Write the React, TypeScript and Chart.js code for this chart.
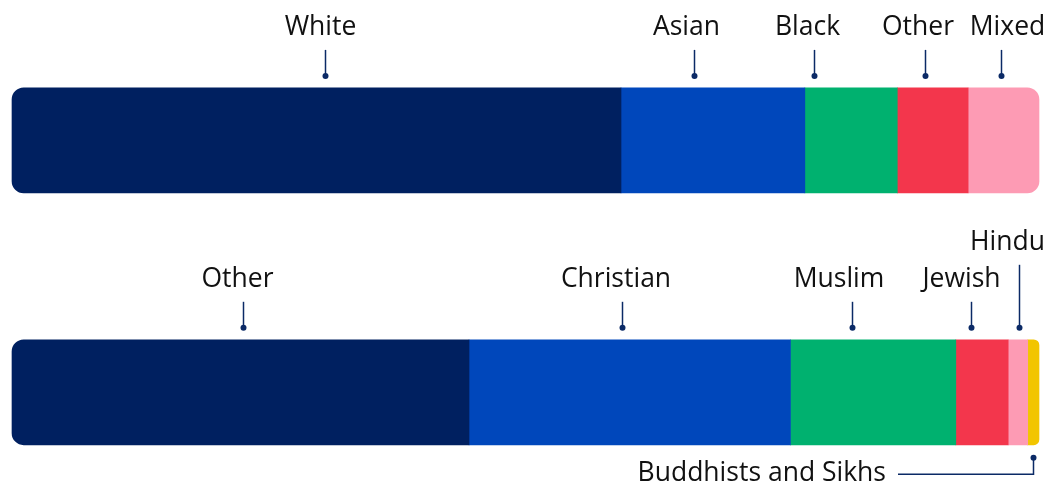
import React, { useEffect, useRef } from 'react';
import { Chart, registerables } from 'chart.js';

Chart.register(...registerables);

// ---- data ----
const rowNames = ['Ethnicity', 'Religion'];
const ethnicityLabels = ['White', 'Asian', 'Black', 'Other', 'Mixed'];
const ethnicityValues = [59.3, 17.9, 9.0, 6.9, 6.9];
const religionLabels = ['Other', 'Christian', 'Muslim', 'Jewish', 'Hindu', 'Buddhists and Sikhs'];
const religionValues = [44.5, 31.3, 16.1, 5.1, 1.9, 1.1];

// ---- styles ----
const segmentColors = ['#002060', '#0047BB', '#00B16F', '#F3364C', '#FD9BB4', '#F2C500'];
const textColor = '#111111';
const leaderColor = '#0B2A66';
const cornerRadius = 12;
const labelFont = '26.5px "Open Sans"';

// label layout in pixels: leader shift from segment centre, text shift from leader, lift, placement
type Lay = { lineDx: number; textDx: number; lift?: number; below?: boolean };
const ethnicityLayout: Lay[] = [
  { lineDx: 8.5, textDx: -5 },
  { lineDx: -19, textDx: -8 },
  { lineDx: -37, textDx: -7 },
  { lineDx: -7.7, textDx: -7.5 },
  { lineDx: -2.6, textDx: 6 },
];
const religionLayout: Lay[] = [
  { lineDx: 2.5, textDx: -6 },
  { lineDx: -7.7, textDx: -6.5 },
  { lineDx: -21.2, textDx: -13.5 },
  { lineDx: -11, textDx: -10 },
  { lineDx: 1, textDx: -12, lift: 37 },
  { lineDx: 0, textDx: 0, below: true },
];

const rowsLabels = [ethnicityLabels, religionLabels];
const rowsValues = [ethnicityValues, religionValues];
const rowsLayout = [ethnicityLayout, religionLayout];

function spans(values: number[]): [number, number][] {
  const out: [number, number][] = [];
  let acc = 0;
  values.forEach((v) => {
    out.push([acc, acc + v]);
    acc += v;
  });
  return out;
}

const labelPlugin = {
  id: 'segmentLabels',
  afterDatasetsDraw(chart: any) {
    const ctx = chart.ctx as CanvasRenderingContext2D;
    ctx.save();
    ctx.font = labelFont;
    rowsLabels.forEach((labels, r) => {
      labels.forEach((label, i) => {
        const meta = chart.getDatasetMeta(i);
        const el = meta.data[r];
        if (!el) return;
        const p = el.getProps(['x', 'base', 'y', 'height'], true);
        const left = Math.min(p.x, p.base);
        const right = Math.max(p.x, p.base);
        const cx = (left + right) / 2;
        const top = p.y - p.height / 2;
        const bottom = p.y + p.height / 2;
        const lay = rowsLayout[r][i];
        const lx = Math.round(cx + lay.lineDx) + 0.5;
        ctx.strokeStyle = leaderColor;
        ctx.fillStyle = leaderColor;
        ctx.lineWidth = 1.5;
        if (lay.below) {
          const dotY = bottom + 13;
          const cornerY = bottom + 29.5;
          ctx.font = labelFont;
          const tw = ctx.measureText(label).width;
          const textRight = 886;
          const lineStart = textRight + 12;
          ctx.beginPath();
          ctx.moveTo(lx, dotY);
          ctx.lineTo(lx, cornerY);
          ctx.lineTo(lineStart, cornerY);
          ctx.stroke();
          ctx.beginPath();
          ctx.arc(lx, dotY, 3, 0, Math.PI * 2);
          ctx.fill();
          ctx.fillStyle = textColor;
          ctx.textAlign = 'left';
          ctx.textBaseline = 'alphabetic';
          ctx.fillText(label, textRight - tw, cornerY + 6.5);
        } else {
          const lift = lay.lift || 0;
          const baseline = top - 53 - lift;
          const dotY = top - 12;
          ctx.beginPath();
          ctx.moveTo(lx, baseline + 15);
          ctx.lineTo(lx, dotY);
          ctx.stroke();
          ctx.beginPath();
          ctx.arc(lx, dotY, 3, 0, Math.PI * 2);
          ctx.fill();
          ctx.fillStyle = textColor;
          ctx.textAlign = 'center';
          ctx.textBaseline = 'alphabetic';
          ctx.fillText(label, lx + lay.textDx, baseline);
        }
      });
    });
    ctx.restore();
  },
};

export default function App() {
  const canvasRef = useRef<HTMLCanvasElement | null>(null);

  useEffect(() => {
    const canvas = canvasRef.current;
    if (!canvas) return;
    const rowSpans = rowsValues.map(spans);
    const maxSegments = Math.max(...rowsValues.map((v) => v.length));
    const datasets = [] as any[];
    for (let i = 0; i < maxSegments; i++) {
      datasets.push({
        label: `segment ${i + 1}`,
        data: rowSpans.map((s) => (s[i] ? s[i] : null)),
        backgroundColor: segmentColors[i],
        borderWidth: 0,
        borderSkipped: false,
        barThickness: 105,
        grouped: false,
        clip: false,
        borderRadius: (c: any) => {
          const n = rowsValues[c.dataIndex]?.length ?? 0;
          const first = c.datasetIndex === 0;
          const last = c.datasetIndex === n - 1;
          return {
            topLeft: first ? cornerRadius : 0,
            bottomLeft: first ? cornerRadius : 0,
            topRight: last ? cornerRadius : 0,
            bottomRight: last ? cornerRadius : 0,
          };
        },
      });
    }
    const chart = new Chart(canvas, {
      type: 'bar',
      data: { labels: rowNames, datasets },
      options: {
        indexAxis: 'y',
        animation: false,
        responsive: false,
        maintainAspectRatio: false,
        layout: { padding: { left: 12, right: 9, top: 140.4, bottom: 91.7 } },
        scales: {
          x: { display: false, min: 0, max: 100 },
          y: { display: false, offset: false },
        },
        plugins: {
          legend: { display: false },
          tooltip: { enabled: false },
        },
      },
      plugins: [labelPlugin],
    });
    return () => chart.destroy();
  }, []);

  return (
    <div style={{ position: 'absolute', left: 0, top: 0, width: 1048, height: 484, background: '#fff' }}>
      <canvas ref={canvasRef} width={1048} height={484} style={{ display: 'block' }} />
    </div>
  );
}
